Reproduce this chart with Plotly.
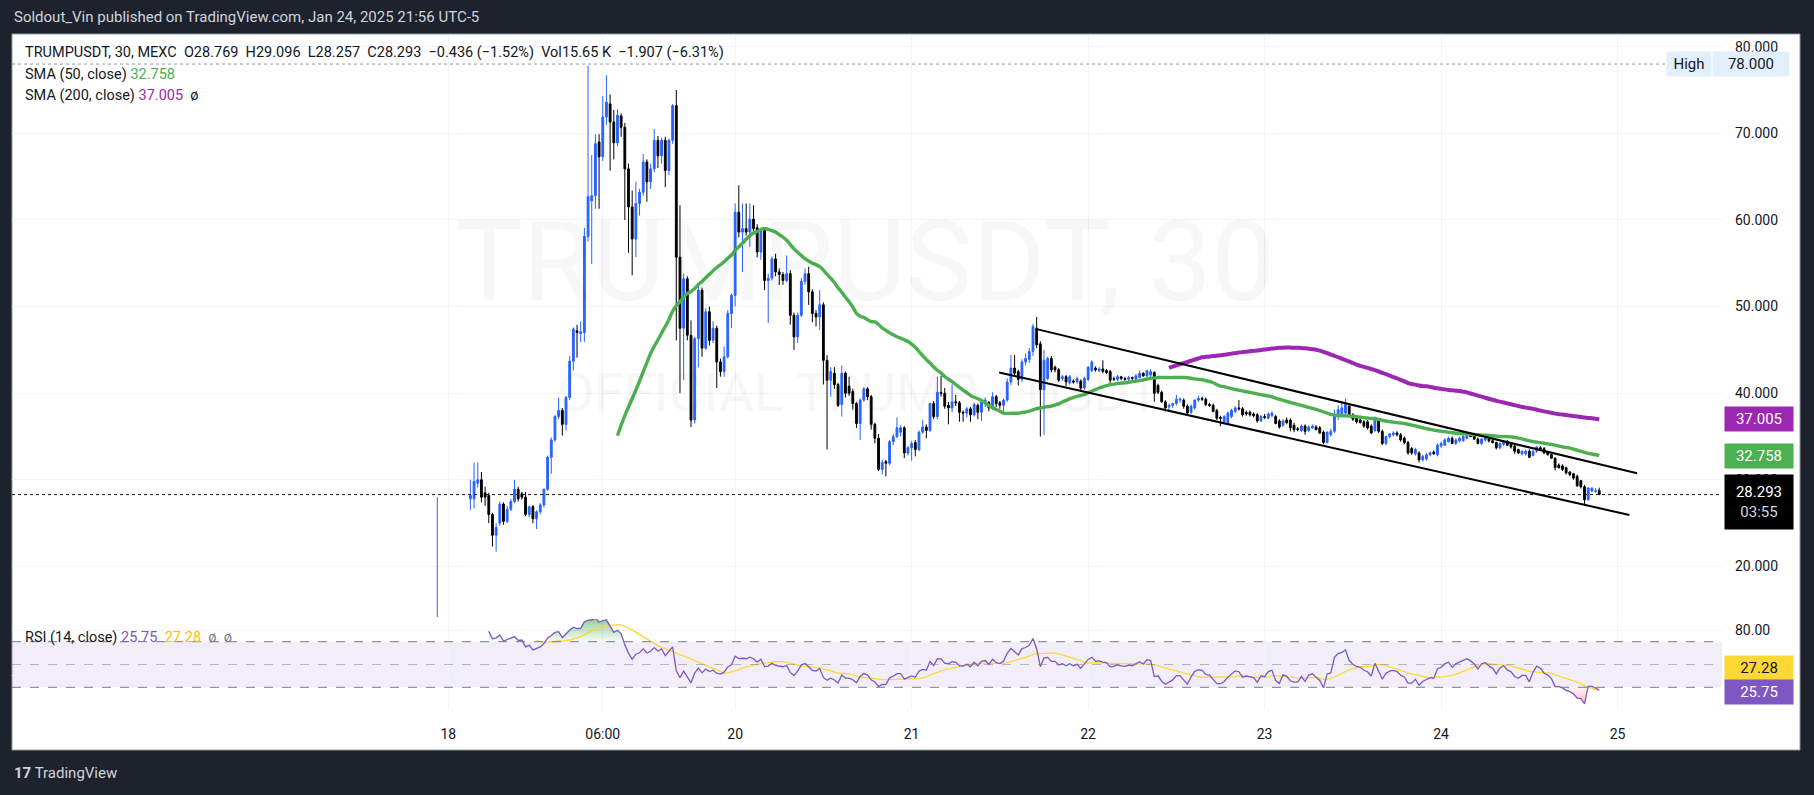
import numpy as np
import pandas as pd
import plotly.graph_objects as go

# --- TRUMPUSDT, 30m, MEXC. bar 0 = listing bar ---
opens = [
    6.5, 9.5, 10.2, 11.5, 10.8, 12.0, 11.3, 12.6, 12.1, 27.8,
    27.8, 29.6, 30.0, 28.5, 28.2, 26.0, 23.6, 25.0, 27.2, 25.2,
    26.6, 27.5, 28.9, 28.4, 28.0, 26.0, 26.9, 25.5, 26.3, 27.1,
    28.9, 32.6, 34.6, 37.3, 38.0, 36.4, 39.5, 43.7, 47.2, 46.9,
    47.0, 58.1, 62.2, 62.8, 69.0, 67.3, 71.9, 73.4, 71.3, 68.9,
    72.0, 70.7, 65.9, 61.5, 57.8, 61.9, 63.2, 66.7, 64.4, 65.9,
    69.2, 67.4, 69.2, 65.7, 69.2, 73.2, 55.7, 47.5, 53.2, 46.7,
    36.9, 46.3, 51.9, 45.2, 49.4, 46.1, 47.5, 43.6, 42.5, 44.2,
    49.2, 51.3, 60.9, 58.6, 59.0, 58.6, 60.1, 59.1, 56.3, 58.8,
    53.0, 53.3, 55.5, 54.0, 53.7, 53.0, 53.8, 49.0, 46.5, 49.0,
    52.9, 53.8, 51.7, 49.2, 48.8, 50.2, 43.8, 41.5, 42.3, 41.0,
    38.7, 42.3, 40.8, 40.2, 38.8, 36.5, 39.2, 40.5, 39.6, 36.4,
    34.8, 31.2, 32.1, 31.9, 34.4, 35.0, 35.5, 36.0, 33.1, 33.7,
    34.3, 33.5, 35.5, 36.1, 35.7, 38.8, 37.3, 40.1, 40.0, 38.6,
    38.3, 39.0, 38.9, 37.8, 37.7, 38.2, 37.5, 38.6, 37.8, 38.9,
    38.9, 38.3, 39.6, 38.9, 38.6, 39.2, 41.3, 42.9, 42.5, 41.6,
    43.6, 43.9, 44.8, 47.5, 45.7, 40.4, 41.7, 44.0, 43.0, 42.7,
    41.7, 41.9, 41.2, 41.4, 41.3, 41.4, 40.6, 41.6, 42.6, 42.9,
    42.6, 42.8, 42.6, 42.5, 41.7, 41.6, 41.9, 41.7, 41.6, 41.8,
    41.6, 41.8, 42.3, 42.0, 42.1, 42.4, 40.9, 40.1, 39.0, 38.4,
    38.6, 38.8, 39.2, 39.2, 38.5, 37.8, 38.3, 39.2, 39.4, 39.3,
    38.7, 38.6, 38.0, 37.2, 36.7, 36.6, 37.3, 37.9, 38.3, 38.2,
    37.8, 37.8, 37.6, 37.5, 36.8, 37.3, 37.1, 37.4, 37.3, 36.8,
    36.3, 36.9, 36.9, 36.3, 35.9, 35.7, 36.2, 35.7, 36.0, 36.1,
    36.0, 35.5, 34.3, 35.2, 35.6, 37.3, 37.5, 37.7, 38.5, 37.5,
    37.1, 36.9, 36.7, 36.7, 36.2, 35.7, 36.9, 35.6, 34.2, 35.0,
    35.2, 35.4, 35.2, 34.8, 34.3, 33.6, 33.0, 33.1, 32.3, 32.4,
    32.9, 33.2, 32.9, 33.9, 34.0, 34.4, 34.8, 34.2, 34.5, 34.5,
    34.8, 35.2, 35.1, 34.7, 34.2, 34.6, 34.7, 34.5, 34.3, 33.7,
    34.1, 34.4, 34.1, 33.9, 33.5, 33.0, 33.0, 33.3, 32.8, 33.3,
    33.7, 33.6, 33.2, 32.9, 32.5, 31.7, 31.6, 31.4, 30.9, 30.7,
    30.4, 29.9, 29.2, 27.7, 28.7, 28.65, 28.769,
]
highs = [
    28.0, 10.8, 12.2, 11.9, 12.5, 12.4, 13.1, 13.0, 13.6, 30.0,
    32.0, 32.0, 30.9, 29.2, 28.5, 26.2, 25.0, 27.5, 27.4, 27.0,
    27.8, 30.0, 29.2, 28.6, 28.6, 27.0, 27.1, 26.5, 27.3, 29.0,
    32.8, 34.9, 37.5, 39.5, 38.3, 39.7, 44.3, 47.6, 47.9, 48.3,
    59.1, 77.8, 67.5, 69.9, 69.9, 74.3, 76.7, 74.5, 72.7, 72.8,
    72.3, 71.2, 66.5, 63.4, 64.4, 63.6, 67.6, 67.0, 66.5, 70.5,
    69.7, 69.5, 69.6, 69.4, 73.4, 75.0, 61.7, 53.8, 53.5, 48.4,
    46.5, 52.7, 52.2, 49.8, 50.0, 48.3, 47.8, 44.0, 45.4, 49.6,
    51.5, 61.9, 64.0, 61.9, 61.9, 61.9, 61.7, 59.5, 59.0, 59.0,
    53.8, 55.8, 56.1, 54.4, 54.0, 55.9, 54.2, 49.3, 49.3, 53.3,
    54.4, 54.6, 52.0, 49.6, 51.9, 50.5, 44.4, 43.0, 43.0, 41.2,
    43.2, 42.5, 41.9, 40.5, 39.0, 39.4, 40.7, 40.7, 39.8, 36.6,
    35.3, 32.3, 32.3, 34.6, 35.3, 37.2, 36.3, 36.2, 33.9, 34.5,
    34.6, 35.7, 36.9, 36.4, 38.9, 39.1, 41.9, 42.0, 40.6, 39.0,
    41.0, 39.8, 39.1, 38.0, 38.4, 38.4, 38.9, 38.8, 39.2, 39.5,
    39.1, 40.1, 39.8, 39.1, 39.4, 41.7, 44.4, 44.4, 42.7, 43.9,
    44.6, 45.2, 48.0, 48.8, 46.0, 45.0, 44.2, 44.3, 43.2, 42.9,
    42.1, 42.1, 42.1, 41.6, 41.9, 41.6, 41.9, 43.1, 43.8, 43.1,
    43.0, 43.8, 42.8, 42.7, 41.9, 42.1, 42.0, 41.9, 42.0, 41.9,
    42.2, 42.6, 42.4, 42.7, 42.8, 42.5, 41.1, 40.3, 39.2, 38.8,
    38.9, 39.8, 39.5, 39.4, 38.7, 38.7, 39.3, 39.7, 39.6, 39.5,
    38.9, 38.8, 38.2, 37.4, 37.5, 37.9, 38.2, 38.5, 39.2, 38.4,
    38.0, 38.0, 37.8, 37.7, 37.5, 37.6, 37.8, 37.9, 37.5, 37.0,
    37.0, 37.2, 37.1, 36.6, 36.1, 36.4, 36.4, 36.3, 36.4, 36.3,
    36.2, 35.7, 35.6, 35.9, 38.1, 38.6, 38.9, 39.4, 38.8, 37.7,
    37.3, 37.1, 36.9, 36.9, 36.4, 37.3, 37.1, 35.8, 35.1, 35.4,
    35.6, 35.6, 35.4, 35.0, 34.5, 33.8, 33.7, 33.3, 32.9, 33.1,
    33.3, 33.4, 34.2, 34.4, 34.8, 35.0, 35.0, 34.8, 35.0, 35.2,
    35.4, 35.3, 35.2, 34.9, 34.8, 35.0, 34.9, 34.7, 34.4, 34.3,
    34.5, 34.6, 34.3, 34.1, 33.6, 33.4, 33.5, 33.5, 33.4, 33.9,
    33.9, 33.8, 33.3, 33.0, 32.6, 31.9, 31.8, 31.5, 31.0, 30.8,
    30.6, 30.0, 29.4, 29.1, 29.1, 29.05, 29.096,
]
lows = [
    5.0, 9.1, 9.9, 10.4, 10.6, 11.0, 11.1, 11.8, 11.9, 26.5,
    26.7, 29.1, 27.4, 27.0, 25.0, 22.3, 21.7, 24.7, 24.8, 25.0,
    26.4, 27.3, 27.5, 27.7, 25.8, 25.7, 25.0, 24.3, 26.0, 26.8,
    28.7, 30.7, 34.4, 37.0, 35.1, 35.7, 39.2, 42.6, 44.1, 45.9,
    45.9, 57.5, 54.9, 61.3, 61.3, 66.8, 71.0, 65.7, 67.0, 68.5,
    69.6, 60.0, 56.2, 53.6, 55.7, 60.5, 62.8, 62.1, 63.6, 65.5,
    66.0, 66.5, 63.8, 65.2, 68.8, 46.1, 40.0, 41.5, 46.1, 36.1,
    36.5, 43.0, 44.2, 45.0, 45.5, 45.8, 40.6, 41.9, 41.9, 44.0,
    47.5, 50.0, 58.0, 54.0, 58.2, 56.9, 58.5, 55.7, 55.4, 51.9,
    48.1, 53.0, 53.5, 52.5, 52.5, 52.8, 47.9, 45.0, 45.8, 48.8,
    52.5, 50.2, 48.2, 47.7, 47.3, 41.0, 33.5, 39.6, 40.5, 38.4,
    37.3, 39.5, 39.7, 38.1, 36.0, 34.6, 39.0, 39.2, 35.8, 34.2,
    31.0, 30.6, 30.4, 31.7, 34.0, 34.8, 35.0, 32.5, 32.8, 32.2,
    32.7, 33.3, 35.3, 34.8, 35.5, 37.0, 37.0, 39.6, 38.2, 36.4,
    37.8, 38.5, 36.7, 36.7, 37.2, 36.7, 37.3, 37.0, 36.8, 38.4,
    37.9, 38.1, 38.4, 38.2, 37.6, 39.0, 40.9, 42.0, 40.9, 41.3,
    43.2, 43.5, 44.3, 45.2, 35.0, 35.2, 41.5, 42.4, 42.4, 41.3,
    41.4, 40.8, 41.0, 41.1, 41.1, 40.2, 40.4, 41.4, 42.4, 42.5,
    42.4, 42.3, 42.2, 41.1, 41.4, 41.4, 41.5, 41.4, 41.4, 41.5,
    41.5, 41.7, 41.9, 41.9, 41.9, 39.0, 39.9, 38.9, 37.9, 37.9,
    38.3, 38.6, 38.9, 38.2, 37.5, 37.6, 38.1, 39.0, 39.1, 38.5,
    38.4, 37.8, 36.9, 36.2, 36.5, 36.5, 37.1, 37.7, 38.0, 37.3,
    37.4, 37.3, 37.2, 36.6, 36.7, 37.0, 37.0, 37.2, 36.4, 35.9,
    36.1, 36.4, 35.6, 35.5, 35.6, 35.5, 35.2, 35.5, 35.9, 35.7,
    35.3, 34.1, 34.2, 35.0, 35.4, 36.9, 37.3, 37.5, 37.3, 36.8,
    36.5, 36.5, 36.0, 35.8, 35.3, 35.5, 35.4, 34.0, 34.0, 34.8,
    35.0, 35.0, 34.4, 34.1, 32.9, 32.9, 32.8, 32.0, 32.1, 32.2,
    32.7, 32.9, 32.7, 33.7, 33.9, 34.3, 34.1, 34.0, 34.3, 34.4,
    34.7, 34.9, 34.6, 34.1, 34.0, 34.4, 34.3, 34.2, 33.5, 33.5,
    33.9, 33.9, 33.6, 33.0, 33.0, 32.8, 32.8, 32.5, 32.7, 33.1,
    33.4, 33.0, 32.8, 32.4, 31.1, 31.3, 31.0, 30.6, 30.4, 30.0,
    29.2, 29.0, 27.2, 27.6, 28.6, 28.5, 28.257,
]
closes = [
    9.5, 10.2, 11.5, 10.8, 12.0, 11.3, 12.6, 12.1, 13.0, 28.2,
    29.8, 30.0, 28.0, 28.0, 26.0, 23.6, 24.5, 27.2, 25.2, 26.6,
    27.5, 28.9, 27.8, 28.0, 26.0, 26.9, 25.5, 26.3, 27.1, 28.9,
    32.6, 34.6, 37.3, 38.0, 36.4, 39.5, 43.7, 47.4, 47.0, 47.1,
    58.1, 62.7, 62.8, 68.8, 67.3, 71.9, 73.6, 71.3, 68.9, 72.1,
    70.7, 65.9, 61.5, 57.8, 61.9, 63.2, 66.7, 64.4, 65.9, 69.2,
    67.4, 69.2, 65.7, 69.2, 73.2, 55.7, 47.5, 53.2, 46.7, 36.9,
    46.3, 51.9, 45.2, 49.4, 46.1, 47.5, 43.6, 42.5, 44.2, 49.2,
    51.3, 60.9, 58.6, 59.0, 58.6, 60.1, 59.0, 56.3, 58.8, 53.0,
    53.3, 55.5, 54.0, 53.7, 53.0, 53.8, 49.0, 46.5, 49.0, 52.9,
    53.8, 51.7, 49.2, 48.8, 50.2, 43.8, 41.5, 42.5, 41.0, 38.6,
    42.3, 40.0, 40.0, 38.8, 36.5, 39.2, 40.5, 39.6, 36.4, 34.8,
    31.2, 32.0, 31.9, 34.4, 35.0, 36.0, 36.0, 33.1, 33.7, 34.2,
    33.5, 35.5, 36.1, 35.7, 38.8, 37.3, 40.1, 40.0, 38.5, 38.3,
    39.0, 38.9, 37.8, 37.7, 38.2, 37.5, 38.7, 37.8, 39.0, 39.2,
    38.3, 39.6, 38.8, 38.6, 39.2, 41.3, 42.9, 42.3, 41.6, 43.6,
    44.0, 44.8, 47.7, 45.6, 40.4, 43.8, 44.0, 42.7, 42.7, 41.5,
    41.9, 41.3, 41.9, 41.3, 41.7, 40.6, 41.7, 43.0, 43.6, 42.7,
    42.8, 42.5, 42.4, 41.5, 41.6, 41.9, 41.7, 41.6, 41.8, 41.7,
    42.0, 42.3, 42.0, 42.6, 42.5, 40.0, 40.1, 39.0, 38.3, 38.6,
    38.8, 39.3, 39.3, 38.5, 37.7, 38.5, 39.2, 39.4, 39.3, 38.7,
    38.6, 37.9, 37.1, 37.1, 37.3, 37.7, 38.0, 38.3, 38.2, 37.5,
    37.6, 37.5, 37.4, 36.8, 37.3, 37.2, 37.6, 37.7, 36.5, 36.1,
    36.8, 36.6, 36.0, 35.8, 35.8, 36.2, 35.6, 36.1, 36.2, 35.8,
    35.4, 34.3, 35.5, 35.6, 37.5, 38.1, 38.3, 38.7, 37.5, 37.0,
    36.7, 36.6, 36.2, 36.0, 35.4, 36.9, 35.6, 34.2, 35.0, 35.3,
    35.4, 35.2, 34.6, 34.3, 33.1, 33.1, 33.5, 32.3, 32.7, 32.9,
    33.1, 33.0, 34.0, 34.2, 34.6, 34.8, 34.2, 34.6, 34.8, 35.0,
    35.2, 35.0, 34.7, 34.2, 34.7, 34.8, 34.5, 34.3, 33.7, 34.2,
    34.4, 34.0, 33.8, 33.3, 33.1, 33.3, 33.3, 32.6, 33.3, 33.8,
    33.6, 33.1, 32.9, 32.5, 31.4, 31.4, 31.2, 30.8, 30.6, 30.2,
    29.3, 29.2, 27.7, 29.05, 29.05, 28.729, 28.293,
]

# time axis labels (bar index where TradingView prints them)
day_ticks = [3, 45, 81, 129, 177, 225, 273, 321]
day_labels = ["18", "06:00", "20", "21", "22", "23", "24", "25"]
price_ticks = [20, 30, 40, 50, 60, 70, 80]

# descending channel drawn on the chart (bar index, price)
chan_top_x = [163.0, 326.3]
chan_top_y = [47.4, 30.75]
chan_bot_x = [152.8, 324.2]
chan_bot_y = [42.4, 25.94]

SMA50_LAST, SMA200_LAST = 32.758, 37.005
RSI_LAST, RSI_MA_LAST = 25.75, 27.28
SESSION_HIGH = 78.0
DAY_CHG = "−1.907 (−6.31%)"
VOL = "15.65"

# --- indicators ---
df = pd.DataFrame({"open": opens, "high": highs, "low": lows, "close": closes})
df["bar"] = np.arange(len(df))
df["sma50"] = df["close"].rolling(50).mean()
df["sma200"] = df["close"].rolling(200).mean()


def rsi_tv(close, n=14):
    d = close.diff().to_numpy()
    up = np.clip(d, 0, None)
    dn = np.clip(-d, 0, None)
    out = np.full(len(close), np.nan)
    ag, al = up[1:n + 1].mean(), dn[1:n + 1].mean()
    out[n] = 100 - 100 / (1 + ag / al)
    for i in range(n + 1, len(close)):
        ag = (ag * (n - 1) + up[i]) / n
        al = (al * (n - 1) + dn[i]) / n
        out[i] = 100 - 100 / (1 + ag / al)
    return out


df["rsi"] = rsi_tv(df["close"])
df["rsi_ma"] = df["rsi"].rolling(14).mean()
rsi = df["rsi"].to_numpy()
ob = np.where(np.isnan(rsi), np.nan, np.maximum(rsi, 70))
os_ = np.where(np.isnan(rsi), np.nan, np.minimum(rsi, 30))
base70 = np.where(np.isnan(rsi), np.nan, 70.0)
base30 = np.where(np.isnan(rsi), np.nan, 30.0)

# --- geometry (pixels of the 1814x795 snapshot) ---
W, H = 1814, 795
FONT = "Roboto"
INK = "#131722"
BLUE = "#2962ff"
GRID = "#f0f3fa"


def px(x):
    return x / W


def py(y):
    return 1 - y / H


BAR0, BARW = 437.3, 3.677          # x pixel of bar 0, pixels per bar
PL, PR = 12, 1722                  # plot area left / right
x_range = [(PL - BAR0) / BARW, (PR - BAR0) / BARW]

fig = go.Figure()

fig.add_trace(go.Candlestick(
    x=df["bar"], open=df["open"], high=df["high"], low=df["low"], close=df["close"],
    increasing=dict(line=dict(color=BLUE, width=1), fillcolor=BLUE),
    decreasing=dict(line=dict(color="#000000", width=1), fillcolor="#000000"),
    whiskerwidth=0, hoverinfo="skip", xaxis="x", yaxis="y",
))
fig.add_trace(go.Scatter(x=df["bar"], y=df["sma50"], mode="lines",
                         line=dict(color="#4caf50", width=3.4, shape="spline"),
                         hoverinfo="skip", xaxis="x", yaxis="y"))
fig.add_trace(go.Scatter(x=df["bar"], y=df["sma200"], mode="lines",
                         line=dict(color="#9c27b0", width=4, shape="spline"),
                         hoverinfo="skip", xaxis="x", yaxis="y"))
for cx, cy in [(chan_top_x, chan_top_y), (chan_bot_x, chan_bot_y)]:
    fig.add_trace(go.Scatter(x=cx, y=cy, mode="lines", line=dict(color="#000000", width=2),
                             hoverinfo="skip", xaxis="x", yaxis="y"))

# RSI pane: fills beyond the bands, then RSI and its MA
fig.add_trace(go.Scatter(x=df["bar"], y=base70, mode="lines", line=dict(width=0),
                         hoverinfo="skip", xaxis="x2", yaxis="y2"))
fig.add_trace(go.Scatter(x=df["bar"], y=ob, mode="lines", line=dict(width=0), fill="tonexty",
                         fillgradient=dict(type="vertical", start=70, stop=92,
                                           colorscale=[[0, "rgba(76,175,80,0.05)"],
                                                       [1, "rgba(76,175,80,0.65)"]]),
                         hoverinfo="skip", xaxis="x2", yaxis="y2"))
fig.add_trace(go.Scatter(x=df["bar"], y=base30, mode="lines", line=dict(width=0),
                         hoverinfo="skip", xaxis="x2", yaxis="y2"))
fig.add_trace(go.Scatter(x=df["bar"], y=os_, mode="lines", line=dict(width=0), fill="tonexty",
                         fillgradient=dict(type="vertical", start=30, stop=10,
                                           colorscale=[[0, "rgba(242,54,69,0.05)"],
                                                       [1, "rgba(242,54,69,0.45)"]]),
                         hoverinfo="skip", xaxis="x2", yaxis="y2"))
fig.add_trace(go.Scatter(x=df["bar"], y=df["rsi_ma"], mode="lines",
                         line=dict(color="#fdd835", width=1.3),
                         hoverinfo="skip", xaxis="x2", yaxis="y2"))
fig.add_trace(go.Scatter(x=df["bar"], y=df["rsi"], mode="lines",
                         line=dict(color="#7e57c2", width=1.3),
                         hoverinfo="skip", xaxis="x2", yaxis="y2"))

shapes = [
    # white chart card on the dark page
    dict(type="rect", xref="paper", yref="paper", x0=px(12), x1=px(1800), y0=py(750), y1=py(34),
         fillcolor="#ffffff", line=dict(color="#9598a1", width=1), layer="below"),
    # session high and last price lines
    dict(type="line", xref="paper", yref="y", x0=px(12), x1=px(1666), y0=SESSION_HIGH, y1=SESSION_HIGH,
         line=dict(color="#9598a1", width=1, dash="dot")),
    dict(type="line", xref="x domain", yref="y", x0=0, x1=1, y0=closes[-1], y1=closes[-1],
         line=dict(color=INK, width=1, dash="dot")),
    # RSI band
    dict(type="rect", xref="x2 domain", yref="y2", x0=0, x1=1, y0=30, y1=70,
         fillcolor="rgba(126,87,194,0.1)", line=dict(width=0), layer="below"),
    dict(type="line", xref="x2 domain", yref="y2", x0=0, x1=1, y0=70, y1=70,
         line=dict(color="#787b86", width=1, dash="dash")),
    dict(type="line", xref="x2 domain", yref="y2", x0=0, x1=1, y0=50, y1=50,
         line=dict(color="rgba(120,123,134,0.5)", width=1, dash="dash")),
    dict(type="line", xref="x2 domain", yref="y2", x0=0, x1=1, y0=30, y1=30,
         line=dict(color="#787b86", width=1, dash="dash")),
]

NB = "\u00a0"
chg = closes[-1] - closes[-2]
legend1 = (f"TRUMPUSDT, 30, MEXC{NB*2}O{opens[-1]:.3f}{NB*2}H{highs[-1]:.3f}{NB*2}"
           f"L{lows[-1]:.3f}{NB*2}C{closes[-1]:.3f}{NB*2}"
           f"{chg:.3f} ({chg / closes[-2] * 100:.2f}%)".replace("-", "−")
           + f"{NB*2}Vol{VOL}{NB}K{NB*2}{DAY_CHG}")


def note(text, x, y, size=14.5, color=INK, xanchor="left", **kw):
    return dict(text=text, x=px(x), y=py(y), xref="paper", yref="paper", showarrow=False,
                xanchor=xanchor, yanchor="middle",
                font=dict(family=FONT, size=size, color=color), **kw)


def badge(text, y, bg, fg="#ffffff", yref="y", x=1724, w=68, h=24, yshift=0, yanchor="middle"):
    return dict(text=text, x=px(x), y=y, xref="paper", yref=yref, showarrow=False,
                xanchor="left", yanchor=yanchor, yshift=yshift, width=w, height=h,
                bgcolor=bg, borderpad=0, align="center",
                font=dict(family=FONT, size=15, color=fg))


annotations = [
    note("Soldout_Vin published on TradingView.com, Jan 24, 2025 21:56 UTC-5", 12, 17,
         size=15, color="#d1d4dc"),
    note(legend1, 23, 53),
    note(f"SMA (50, close){NB}<span style='color:#4caf50'>{SMA50_LAST:.3f}</span>", 23, 75),
    note(f"SMA (200, close){NB}<span style='color:#9c27b0'>{SMA200_LAST:.3f}</span>{NB*2}ø", 23, 96),
    note(f"RSI (14, close){NB}<span style='color:#7e57c2'>{RSI_LAST:.2f}</span>{NB*2}"
         f"<span style='color:#f5c400'>{RSI_MA_LAST:.2f}</span>{NB*2}"
         f"<span style='color:#787b86'>ø{NB*2}ø</span>", 23, 637),
    # watermark
    note("TRUMPUSDT, 30", 865, 262, size=112, color="rgba(19,23,34,0.035)", xanchor="center"),
    note("OFFICIAL TRUMP / USDT", 858, 392, size=54, color="rgba(19,23,34,0.035)", xanchor="center"),
    # footer logo
    note("<b>17</b> TradingView", 12, 773, size=15, color="#d1d4dc"),
    # price scale badges
    badge("High", SESSION_HIGH, "#e3effd", fg=INK, x=1666, w=44),
    badge(f"{SESSION_HIGH:.3f}", SESSION_HIGH, "#e3effd", fg=INK, x=1712, w=76),
    badge(f"{SMA200_LAST:.3f}", SMA200_LAST, "#9c27b0"),
    badge(f"{SMA50_LAST:.3f}", SMA50_LAST, "#4caf50"),
    badge(f"{closes[-1]:.3f}<br><span style='color:#d1d4dc'>03:55</span>", closes[-1], "#000000",
          h=54, yanchor="top", yshift=21),
    badge(f"{RSI_MA_LAST:.2f}", py(667.5), "#fdd835", fg=INK, yref="paper"),
    badge(f"{RSI_LAST:.2f}", py(692), "#7e57c2", yref="paper"),
]

axis_font = dict(family=FONT, size=14, color=INK)
fig.update_layout(
    width=W, height=H,
    margin=dict(l=0, r=0, t=0, b=0),
    paper_bgcolor="#1e222d", plot_bgcolor="rgba(0,0,0,0)",
    showlegend=False, hovermode=False,
    shapes=shapes, annotations=annotations,
    xaxis=dict(domain=[px(PL), px(PR)], range=x_range, anchor="y",
               tickvals=day_ticks, showticklabels=False, ticks="",
               showgrid=True, gridcolor=GRID, zeroline=False, rangeslider=dict(visible=False)),
    yaxis=dict(domain=[py(617), py(36)], range=[14.16, 81.24], anchor="x", side="right",
               tickvals=price_ticks, ticktext=[f"{v:.3f}" for v in price_ticks],
               ticks="", ticklabelstandoff=12, tickfont=axis_font,
               showgrid=True, gridcolor=GRID, zeroline=False),
    xaxis2=dict(domain=[px(PL), px(PR)], range=x_range, anchor="y2", matches="x",
                tickvals=day_ticks, ticktext=day_labels, ticks="", ticklabelstandoff=14,
                tickfont=axis_font, showgrid=True, gridcolor=GRID, zeroline=False),
    yaxis2=dict(domain=[py(710), py(619)], range=[10.09, 89.91], anchor="x2", side="right",
                tickvals=[40, 80], ticktext=["", "80.00"], ticks="", ticklabelstandoff=12,
                tickfont=axis_font, showgrid=True, gridcolor=GRID, zeroline=False),
)

# the page body has a default 8px margin; drop it so the snapshot starts at 0,0
fig.write_html("out.html", config={"displayModeBar": False},
               post_script="document.body.style.margin='0';"
                           "document.body.style.background='#1e222d';")
